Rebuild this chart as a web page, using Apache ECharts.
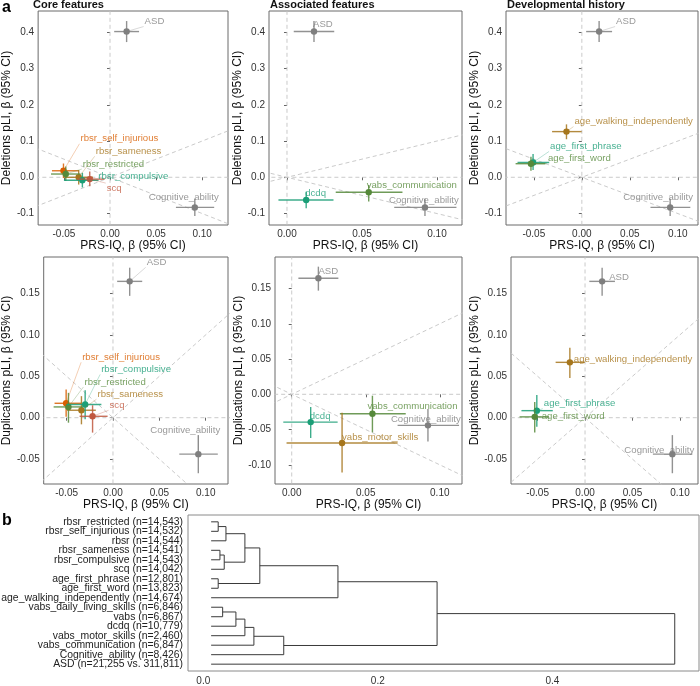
<!DOCTYPE html>
<html><head><meta charset="utf-8">
<script src="https://cdn.jsdelivr.net/npm/echarts@6/dist/echarts.min.js"></script>
<style>html,body{margin:0;padding:0;background:#fff}#c{width:700px;height:686px}</style>
</head><body><div id="c"></div>
<script>
// ---------------- data ----------------
const traits = ['ASD','Cognitive_ability','rbsr_self_injurious','rbsr_sameness','rbsr_restricted','rbsr_compulsive','scq','dcdq','vabs_communication','vabs_motor_skills','age_walking_independently','age_first_phrase','age_first_word'];
const prsBeta = [0.018, 0.092, -0.0505, -0.034, -0.048, -0.030, -0.022, 0.0128, 0.0545, 0.034, -0.016, -0.0508, -0.053];
const prsLo   = [0.0045, 0.0715, -0.063, -0.0495, -0.064, -0.050, -0.036, -0.0057, 0.0325, -0.0035, -0.031, -0.067, -0.069];
const prsHi   = [0.0315, 0.113, -0.034, -0.0185, -0.032, -0.0125, -0.0058, 0.031, 0.077, 0.0715, -0.0002, -0.034, -0.038];
const delBeta = [0.402, -0.083, 0.018, 0.000, 0.009, -0.008, -0.005, -0.0626, -0.0414, null, 0.126, 0.041, 0.0375];
const delLo   = [0.373, -0.107, -0.002, -0.020, -0.010, -0.028, -0.025, -0.0855, -0.067, null, 0.105, 0.020, 0.018];
const delHi   = [0.431, -0.059, 0.038, 0.020, 0.030, 0.0125, 0.016, -0.040, -0.021, null, 0.146, 0.064, 0.057];
const dupBeta = [0.1645, -0.044, 0.0174, 0.009, 0.013, 0.016, 0.0017, -0.0394, -0.0275, -0.069, 0.0668, 0.0085, 0.001];
const dupLo   = [0.147, -0.067, 0.001, -0.008, -0.006, -0.002, -0.018, -0.062, -0.054, -0.111, 0.048, -0.011, -0.018];
const dupHi   = [0.181, -0.021, 0.034, 0.026, 0.030, 0.033, 0.015, -0.018, -0.002, -0.026, 0.0845, 0.0274, 0.019];

const referenceTraits = ['ASD','Cognitive_ability'];
const coreFeatures = ['rbsr_self_injurious','rbsr_sameness','rbsr_restricted','rbsr_compulsive','scq'];
const associatedFeatures = ['dcdq','vabs_communication','vabs_motor_skills'];
const developmentalHistory = ['age_walking_independently','age_first_phrase','age_first_word'];
const panelTitles = ['Core features','Associated features','Developmental history'];

const xTicksWide = [-0.05, 0, 0.05, 0.10];
const xTicksNarrow = [0, 0.05, 0.10];
const delTicks = [-0.1, 0, 0.1, 0.2, 0.3, 0.4];
const dupTicks = [-0.05, 0, 0.05, 0.10, 0.15];
const dupTicksAssoc = [-0.10, -0.05, 0, 0.05, 0.10, 0.15];

const leafLabels = ['rbsr_restricted (n=14,543)','rbsr_self_injurious (n=14,532)','rbsr (n=14,544)','rbsr_sameness (n=14,541)','rbsr_compulsive (n=14,543)','scq (n=14,042)','age_first_phrase (n=12,801)','age_first_word (n=13,823)','age_walking_independently (n=14,674)','vabs_daily_living_skills (n=6,846)','vabs (n=6,867)','dcdq (n=10,779)','vabs_motor_skills (n=2,460)','vabs_communication (n=6,847)','Cognitive_ability (n=8,426)','ASD (n=21,255 vs. 311,811)'];
const leafHeight = 0.009;
// hclust-style merges: negative = leaf (1-based), positive = earlier merge (1-based)
const dendroMerges = [[-1,-2,0.0171],[1,-3,0.026],[-4,-5,0.0191],[3,-6,0.024],[2,4,0.0477],[-7,-8,0.0171],[5,6,0.0648],[7,-9,0.1543],[-10,-11,0.0222],[9,-12,0.0374],[10,-13,0.0477],[11,-14,0.058],[12,-15,0.0922],[8,13,0.2679],[14,-16,0.5402]];
const dendroTicks = [0, 0.2, 0.4];

// ---------------- styles / layout ----------------
const FONT = '"Liberation Sans", Arial, Helvetica, sans-serif';
const LABEL_FONT = '9.6px "Liberation Sans", Arial, sans-serif';
const LEAF_FONT = '10.4px "Liberation Sans", Arial, sans-serif';
const traitColor = {ASD:'#7f7f7f', Cognitive_ability:'#7f7f7f', rbsr_self_injurious:'#D95F02', rbsr_sameness:'#A6761D', rbsr_restricted:'#56893B', rbsr_compulsive:'#1B9E77', scq:'#C0583F', dcdq:'#1B9E77', vabs_communication:'#56893B', vabs_motor_skills:'#A6761D', age_walking_independently:'#A6761D', age_first_phrase:'#1B9E77', age_first_word:'#56893B'};
const layout = [
  {grid:{left:32, top:11, width:196, height:214}, x:[-0.078,0.128], y:[-0.1316,0.4587], gap:13},
  {grid:{left:269, top:11, width:193, height:214}, x:[-0.012,0.1167], y:[-0.1316,0.4587], gap:16},
  {grid:{left:506, top:11, width:192, height:214}, x:[-0.079,0.121], y:[-0.1316,0.4587], gap:19},
  {grid:{left:39, top:257, width:189, height:227}, x:[-0.0747,0.124], y:[-0.080,0.1939], gap:22},
  {grid:{left:275, top:257, width:187, height:227}, x:[-0.0113,0.115], y:[-0.1272,0.1947], gap:22},
  {grid:{left:511, top:257, width:187, height:227}, x:[-0.078,0.119], y:[-0.080,0.1939], gap:26}
];
const dendroGrid = {left:188, top:515, width:511, height:159};
// label nudges (pixels): [dx of label left edge, dy of label centre] relative to the point
const labelNudge = [
  {ASD:[18,-10], Cognitive_ability:[-46,-10], rbsr_self_injurious:[17,-32], rbsr_sameness:[17,-26], rbsr_restricted:[17,-10], rbsr_compulsive:[16,-4], scq:[17,9]},
  {ASD:[-1,-7], Cognitive_ability:[-36,-7], dcdq:[-1,-7], vabs_communication:[-2,-7]},
  {ASD:[17,-10], Cognitive_ability:[-47,-10], age_walking_independently:[8,-10], age_first_phrase:[17,-16], age_first_word:[17,-5]},
  {ASD:[17,-19], Cognitive_ability:[-48,-24], rbsr_self_injurious:[16,-46], rbsr_compulsive:[16,-35], rbsr_restricted:[16,-25], rbsr_sameness:[16,-16], scq:[17,-11]},
  {ASD:[0,-7], Cognitive_ability:[-37,-6], dcdq:[-1,-6], vabs_communication:[-5,-7], vabs_motor_skills:[0,-6]},
  {ASD:[7,-4], Cognitive_ability:[-48,-4], age_walking_independently:[4,-3], age_first_phrase:[7,-7], age_first_word:[7,-1]}
];

const measureCtx = document.createElement('canvas').getContext('2d');
measureCtx.font = LABEL_FONT;
function textWidth(s){ return measureCtx.measureText(s).width; }

const panelGroups = [coreFeatures, associatedFeatures, developmentalHistory];
const series = [], grids = [], xAxes = [], yAxes = [], titles = [];

function panelData(group, yb, ylo, yhi){
  const out = [];
  referenceTraits.concat(group).forEach(t => {
    const i = traits.indexOf(t);
    if (yb[i] == null) return;
    out.push([prsBeta[i], yb[i], prsLo[i], prsHi[i], ylo[i], yhi[i], i]);
  });
  return out;
}

for (let p = 0; p < 6; p++) {
  const L = layout[p];
  const row = p < 3 ? 0 : 1;
  const col = p % 3;
  grids.push(Object.assign({show:true, borderColor:'#6a6a6a', borderWidth:1, backgroundColor:'#fff', containLabel:false}, L.grid));
  const xt = (col === 1) ? xTicksNarrow : xTicksWide;
  const yt = row === 0 ? delTicks : (col === 1 ? dupTicksAssoc : dupTicks);
  xAxes.push({
    gridIndex:p, type:'value', min:L.x[0], max:L.x[1],
    axisLine:{show:false}, splitLine:{show:false},
    axisTick:{show:true, length:3, customValues:xt, lineStyle:{color:'#666'}},
    axisLabel:{customValues:xt, formatter:v => v.toFixed(2), fontSize:10, color:'#333', margin:4, fontFamily:FONT, showMinLabel:true, showMaxLabel:true},
    name:'PRS-IQ, β (95% CI)', nameLocation:'middle', nameGap:14,
    nameTextStyle:{fontSize:12, color:'#111', fontFamily:FONT}
  });
  yAxes.push({
    gridIndex:p, type:'value', min:L.y[0], max:L.y[1],
    axisLine:{show:false}, splitLine:{show:false},
    axisTick:{show:true, length:3, customValues:yt, lineStyle:{color:'#666'}},
    axisLabel:{customValues:yt, formatter:v => row === 0 ? v.toFixed(1) : v.toFixed(2), fontSize:10, color:'#333', margin:4, fontFamily:FONT, showMinLabel:true, showMaxLabel:true},
    name: row === 0 ? 'Deletions pLI, β (95% CI)' : 'Duplications pLI, β (95% CI)',
    nameLocation:'middle', nameGap:L.gap,
    nameTextStyle:{fontSize:12, color:'#111', fontFamily:FONT}
  });
  const dashed = {color:'#c4c4c4', width:0.9, type:[4,3]};
  const refLines = [[[-1,-1],[1,1]], [[-1,1],[1,-1]], [[0,-1],[0,1]], [[-1,0],[1,0]]];
  refLines.forEach(d => series.push({type:'line', xAxisIndex:p, yAxisIndex:p, data:d, symbol:'none', silent:true, clip:true, lineStyle:dashed, z:1, animation:false}));

  const data = row === 0 ? panelData(panelGroups[col], delBeta, delLo, delHi) : panelData(panelGroups[col], dupBeta, dupLo, dupHi);
  series.push({
    type:'custom', xAxisIndex:p, yAxisIndex:p, data, clip:true, z:3, animation:false, silent:true,
    encode:{x:[0,2,3], y:[1,4,5]},
    renderItem:(params, api) => {
      const name = traits[api.value(6)];
      const c = traitColor[name];
      const pt = api.coord([api.value(0), api.value(1)]);
      const h1 = api.coord([api.value(2), api.value(1)]), h2 = api.coord([api.value(3), api.value(1)]);
      const v1 = api.coord([api.value(0), api.value(4)]), v2 = api.coord([api.value(0), api.value(5)]);
      return {type:'group', children:[
        {type:'line', shape:{x1:h1[0], y1:h1[1], x2:h2[0], y2:h2[1]}, style:{stroke:c, lineWidth:1.4, opacity:0.85}},
        {type:'line', shape:{x1:v1[0], y1:v1[1], x2:v2[0], y2:v2[1]}, style:{stroke:c, lineWidth:1.4, opacity:0.85}},
        {type:'circle', shape:{cx:pt[0], cy:pt[1], r:3.2}, style:{fill:c}}
      ]};
    }
  });
  series.push({
    type:'custom', xAxisIndex:p, yAxisIndex:p, data, clip:false, z:4, animation:false, silent:true,
    encode:{x:0, y:1},
    renderItem:(params, api) => {
      const name = traits[api.value(6)];
      const c = traitColor[name];
      const pt = api.coord([api.value(0), api.value(1)]);
      const nd = labelNudge[p][name] || [8,-8];
      const lx = pt[0] + nd[0], cy = pt[1] + nd[1];
      const w = textWidth(name);
      const qx = Math.max(lx - 1, Math.min(pt[0], lx + w + 1));
      const qy = Math.max(cy - 5, Math.min(pt[1], cy + 5));
      const ch = [];
      if (Math.hypot(qx - pt[0], qy - pt[1]) > 3) {
        ch.push({type:'line', shape:{x1:pt[0], y1:pt[1], x2:qx, y2:qy}, style:{stroke:c, lineWidth:0.6, opacity:0.5}});
      }
      ch.push({type:'text', style:{text:name, x:lx, y:cy, fill:c, opacity:0.8, font:LABEL_FONT, textAlign:'left', textVerticalAlign:'middle', align:'left', verticalAlign:'middle'}});
      return {type:'group', children:ch};
    }
  });
}

panelTitles.forEach((t, i) => titles.push({text:t, left:layout[i].grid.left + 1, top:-1, padding:0, textStyle:{fontSize:11, fontWeight:'bold', color:'#111', fontFamily:FONT}}));
titles.push({text:'a', left:2, top:0, padding:0, textStyle:{fontSize:16, fontWeight:'bold', color:'#000', fontFamily:FONT}});
titles.push({text:'b', left:2, top:513, padding:0, textStyle:{fontSize:16, fontWeight:'bold', color:'#000', fontFamily:FONT}});

// ---------------- dendrogram ----------------
grids.push(Object.assign({show:true, borderColor:'#8a8a8a', borderWidth:1, backgroundColor:'#fff'}, dendroGrid));
xAxes.push({gridIndex:6, type:'value', min:-0.0175, max:0.568, axisLine:{show:false}, splitLine:{show:false},
  axisTick:{show:false}, axisLabel:{customValues:dendroTicks, formatter:v => v.toFixed(1), fontSize:10, color:'#333', margin:5, fontFamily:FONT}});
yAxes.push({gridIndex:6, type:'value', inverse:true, min:-0.72, max:15.72, axisLine:{show:false}, splitLine:{show:false},
  axisTick:{show:false}, axisLabel:{show:false}});
const nodePos = [];
function pos(ref){ return ref < 0 ? [leafHeight, -ref - 1] : nodePos[ref - 1]; }
const dendroLinks = dendroMerges.map(m => {
  const a = pos(m[0]), b = pos(m[1]);
  nodePos.push([m[2], (a[1] + b[1]) / 2]);
  return [a[0], a[1], b[0], b[1], m[2]];
});
series.push({type:'custom', xAxisIndex:6, yAxisIndex:6, data:dendroLinks, animation:false, silent:true,
  encode:{x:[0,2,4], y:[1,3]},
  renderItem:(params, api) => {
    const a = api.coord([api.value(0), api.value(1)]);
    const a2 = api.coord([api.value(4), api.value(1)]);
    const b2 = api.coord([api.value(4), api.value(3)]);
    const b = api.coord([api.value(2), api.value(3)]);
    return {type:'polyline', shape:{points:[a, a2, b2, b]}, style:{stroke:'#3a3a3a', fill:null, lineWidth:1}};
  }});
// leaf labels, right-aligned just outside the dendrogram box
series.push({type:'custom', xAxisIndex:6, yAxisIndex:6, data:leafLabels.map((_, i) => [leafHeight, i]), animation:false, silent:true, clip:false,
  encode:{x:0, y:1},
  renderItem:(params, api) => {
    const pt = api.coord([api.value(0), api.value(1)]);
    return {type:'text', style:{text:leafLabels[params.dataIndex], x:params.coordSys.x - 5, y:pt[1], fill:'#222', font:LEAF_FONT, textAlign:'right', textVerticalAlign:'middle', align:'right', verticalAlign:'middle'}};
  }});

const chart = echarts.init(document.getElementById('c'), null, {renderer:'canvas'});
chart.setOption({animation:false, textStyle:{fontFamily:FONT}, title:titles, grid:grids, xAxis:xAxes, yAxis:yAxes, series});
</script></body></html>
